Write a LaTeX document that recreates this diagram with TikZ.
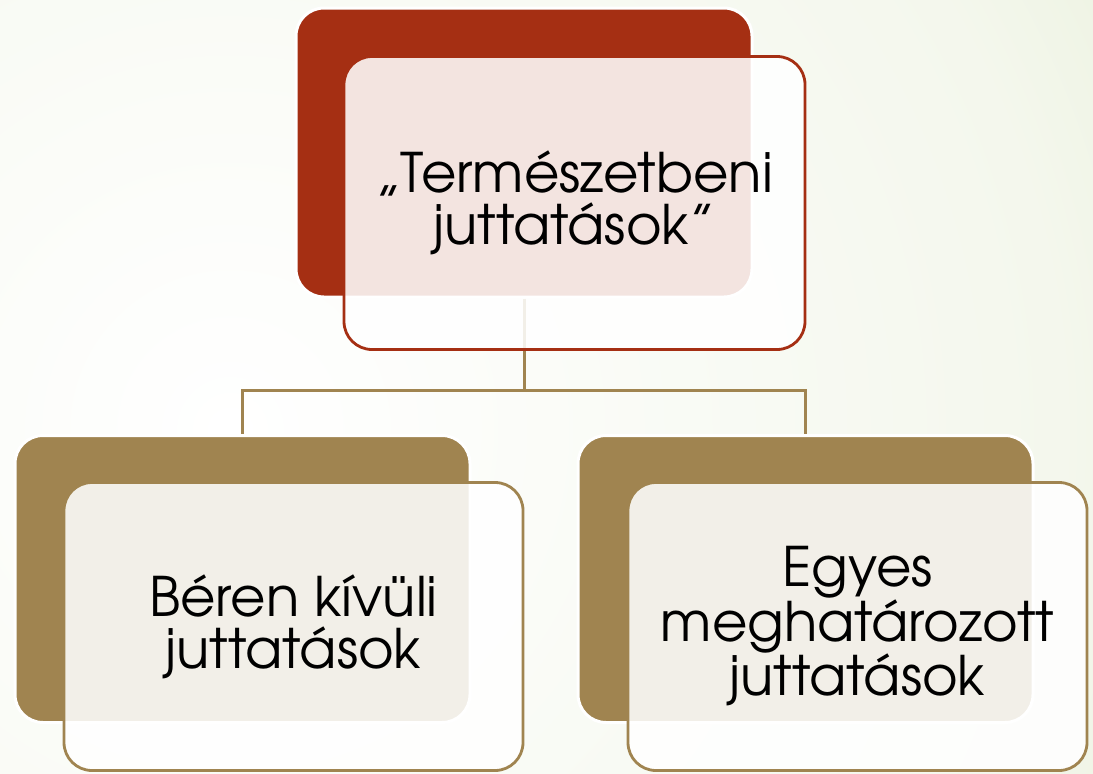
\documentclass[tikz,border=0pt]{standalone}
\usepackage{fontspec}
\setmainfont{TeX Gyre Adventor}
\definecolor{bggreen}{HTML}{DAE5C2}
\colorlet{bgA}{bggreen!30!white}
\colorlet{bgB}{bggreen!68!white}
\definecolor{topred}{HTML}{A52F13}
\definecolor{bbrown}{HTML}{A08450}
\pgfdeclareradialshading{bgrad}{\pgfpoint{0bp}{0bp}}{color(0bp)=(white); color(11bp)=(bgA); color(16bp)=(bgB); color(22bp)=(bggreen); color(50bp)=(bggreen)}
\tikzset{
  backbox/.style={draw=white, line width=3pt, rounded corners=28pt, inner sep=0pt,
    minimum width=455pt, minimum height=287pt},
  frontbox/.style={fill=white, fill opacity=0.87, text opacity=1, line width=2.8pt,
    rounded corners=28pt, inner sep=0pt, minimum width=459pt, minimum height=288pt,
    align=center, text=black, font=\fontsize{54.5}{52}\selectfont},
  conn/.style={draw=bbrown, line width=3pt}
}
\begin{document}
\begin{tikzpicture}[x=1pt,y=-1pt]
\useasboundingbox (0,0) rectangle (1093,774);
\begin{scope}
\clip (0,0) rectangle (1093,774);
\shade[shading=bgrad] (230,430) circle (1900);
\end{scope}
% back boxes
\node[backbox, fill=topred, minimum width=456pt, minimum height=289pt] (tback) at (524,152.5) {};
\node[backbox, fill=bbrown] (lback) at (242.5,579) {};
\node[backbox, fill=bbrown] (rback) at (805.5,579) {};
% connectors
\coordinate (hub) at (524,390);
\draw[conn] (tback.south) -- (hub) -| (lback.north);
\draw[conn] (hub) -| (rback.north);
% front boxes
\node[frontbox, draw=topred, minimum width=461pt, minimum height=293pt] (tfront) at (574.5,203) {„Természetbeni\\juttatások”};
\node[frontbox, draw=bbrown] (lfront) at (293.5,626.5) {Béren kívüli\\juttatások};
\node[frontbox, draw=bbrown] (rfront) at (857.5,626.5) {Egyes\\meghatározott\\juttatások};
\end{tikzpicture}
\end{document}
